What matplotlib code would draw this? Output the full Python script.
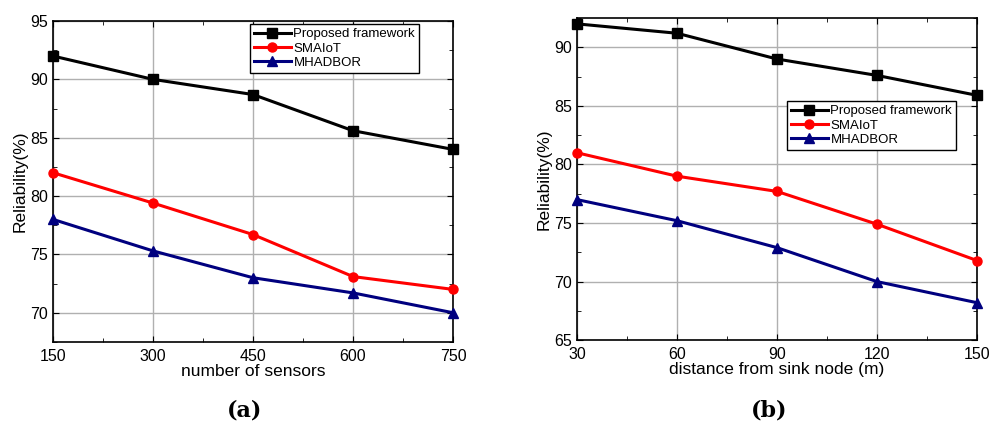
import numpy as np
import matplotlib.pyplot as plt
from matplotlib.ticker import AutoMinorLocator

# Datos (a): numero de sensores
sensores = [150, 300, 450, 600, 750]
prop_a = [92.0, 90.0, 88.7, 85.6, 84.0]
smaiot_a = [82.0, 79.4, 76.7, 73.1, 72.0]
mhadbor_a = [78.0, 75.3, 73.0, 71.7, 70.0]

# Datos (b): distancia al nodo sumidero
distancia = [30, 60, 90, 120, 150]
prop_b = [92.0, 91.2, 89.0, 87.6, 85.9]
smaiot_b = [81.0, 79.0, 77.7, 74.9, 71.8]
mhadbor_b = [77.0, 75.2, 72.9, 70.0, 68.2]

nombres = ['Proposed framework', 'SMAIoT', 'MHADBOR']
colores = ['black', 'red', '#00007f']
marcadores = ['s', 'o', '^']

plt.rcParams['font.family'] = 'Liberation Sans'

fig = plt.figure(figsize=(10, 4.29), dpi=100)
ax1 = fig.add_axes([0.053, 0.203, 0.400, 0.748])
ax2 = fig.add_axes([0.577, 0.207, 0.400, 0.751])


def dibujar(ax, x, series, xlabel, ylim, yticks, legend_pos):
    for y, nombre, c, m in zip(series, nombres, colores, marcadores):
        ax.plot(x, y, color=c, marker=m, lw=2.2, ms=6.5, label=nombre, clip_on=False, zorder=3)
    ax.set_xlim(x[0], x[-1])
    ax.set_ylim(*ylim)
    ax.set_xticks(x)
    ax.set_yticks(yticks)
    ax.xaxis.set_minor_locator(AutoMinorLocator(2))
    ax.yaxis.set_minor_locator(AutoMinorLocator(2))
    ax.tick_params(which='both', direction='in', top=True, right=True, labelsize=11.5)
    ax.tick_params(which='major', length=4)
    ax.tick_params(which='minor', length=3)
    ax.tick_params(axis='x', pad=5)
    ax.grid(True, color='#b0b0b0', lw=1)
    ax.set_axisbelow(True)
    for s in ax.spines.values():
        s.set_linewidth(1.2)
    ax.set_xlabel(xlabel, fontsize=12.5, labelpad=0)
    ax.set_ylabel('Reliability(%)', fontsize=12.5, labelpad=2)
    leg = ax.legend(loc='upper right', bbox_to_anchor=legend_pos, fontsize=9.5, fancybox=False,
                    edgecolor='black', framealpha=1, borderpad=0.3, labelspacing=0.15,
                    handlelength=2.8, handletextpad=0.2, borderaxespad=0)
    leg.get_frame().set_linewidth(1.0)


dibujar(ax1, sensores, [prop_a, smaiot_a, mhadbor_a], 'number of sensors',
        (67.5, 95), [70, 75, 80, 85, 90, 95], (0.915, 0.99))
dibujar(ax2, distancia, [prop_b, smaiot_b, mhadbor_b], 'distance from sink node (m)',
        (65, 92.5), [65, 70, 75, 80, 85, 90], (0.9475, 0.742))

fig.text(0.245, 0.042, '(a)', ha='center', va='center', fontsize=16,
         family='DejaVu Serif', weight='bold')
fig.text(0.769, 0.042, '(b)', ha='center', va='center', fontsize=16,
         family='DejaVu Serif', weight='bold')

fig.savefig('out.png', dpi=100)
